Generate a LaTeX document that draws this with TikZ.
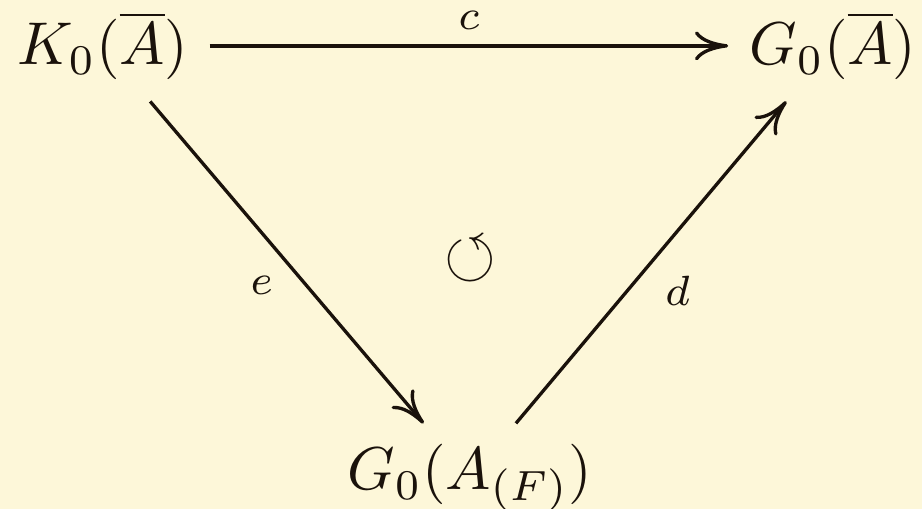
\documentclass[tikz,border=0pt]{standalone}
\usepackage{amssymb}
\usepackage{xcolor}
\usepackage{tikz}
\usetikzlibrary{arrows.meta}
\definecolor{DIAGpaper}{HTML}{FDF7D9}
\definecolor{DIAGink}{HTML}{1A120B}
\begin{document}
\begin{tikzpicture}[x=0.1655pt, y=-0.1655pt,
  obj/.style={text=DIAGink, anchor=base},
  map/.style={draw=DIAGink, line width=0.55pt, -{To[length=5.5pt, width=4.8pt]}},
  lbl/.style={font=\scriptsize, text=DIAGink, inner sep=2pt}]
\fill[DIAGpaper] (0,0) rectangle (922,509);
\useasboundingbox (0,0) rectangle (922,509);
% the three objects
\node[obj] (KA) at (103,65) {$K_0(\overline{A})$};
\node[obj] (GA) at (833,65) {$G_0(\overline{A})$};
\node[obj] (GF) at (470,490) {$G_0(A_{(F)})$};
% the maps
\draw[map] (KA) -- node[lbl, above, inner sep=2.4pt] {$c$} (GA);
\draw[map] (KA) -- node[lbl, below left] {$e$} (GF);
\draw[map] (GF) -- node[lbl, below right] {$d$} (GA);
\node[text=DIAGink, scale=1.1] (comm) at (470,260) {$\circlearrowleft$};
\end{tikzpicture}
\end{document}
